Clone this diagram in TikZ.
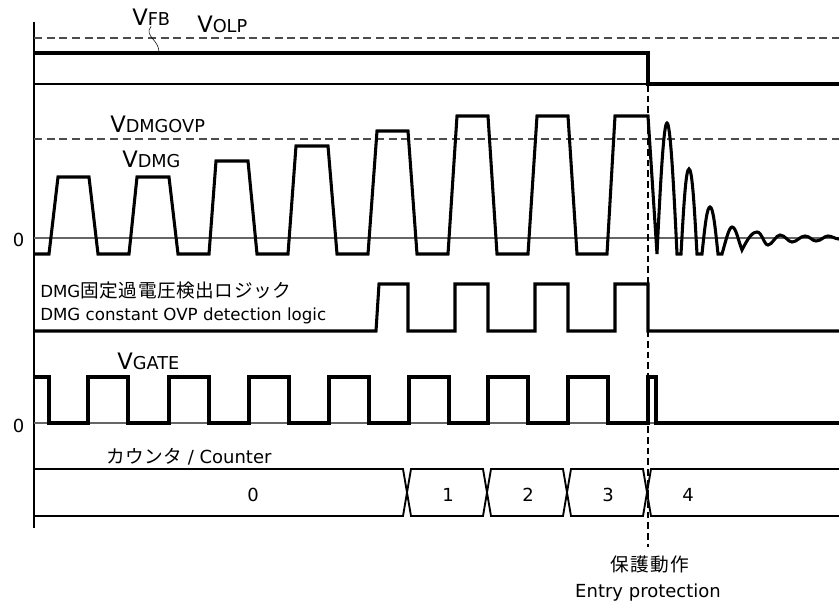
\documentclass[tikz,border=0pt]{standalone}
\usepackage{fontspec}
\setmainfont{DejaVu Sans}
\newfontfamily\jpfont{Noto Sans CJK JP}
\newcommand\sigv[1]{{\fontsize{17}{20}\selectfont V}{\fontsize{13.3}{16}\selectfont #1}}

\begin{document}
\begin{tikzpicture}[x=0.75pt, y=-0.75pt,
    wave/.style={line width=2.3pt},
    refline/.style={line width=0.8pt, black!60},
    limit/.style={line width=1pt, black!70, dash pattern=on 6pt off 3.5pt},
    lbl/.style={inner sep=0pt, font=\fontsize{12.5}{15}\selectfont},
    big/.style={inner sep=0pt, font=\fontsize{13.5}{16}\selectfont}]
\useasboundingbox (0,0) rectangle (839,608);

% axis and reference lines
\draw [line width=1.1pt] (34,22) -- (34,528);
\draw [limit] (34,38) -- (839,38);
\draw [limit] (34,139) -- (839,139);
\draw [refline, black] (34,84) -- (648,84);
\draw [refline] (34,238) -- (839,238);
\draw [refline] (34,423) -- (839,423);

% labels
\node [anchor=base west, inner sep=0pt] (vfb) at (132,25) {\sigv{FB}};
\node [anchor=base west, inner sep=0pt] (volp) at (197,32) {\sigv{OLP}};
\node [anchor=base west, inner sep=0pt] (vdmgovp) at (110,132) {\sigv{DMGOVP}};
\node [anchor=base west, inner sep=0pt] (vdmg) at (122,167) {\sigv{DMG}};
\node [anchor=base west, inner sep=0pt] (vgate) at (117,369) {\sigv{GATE}};
\node [big] (zero1) at (18.5,240) {0};
\node [big] (zero2) at (18.5,426) {0};
\node [lbl, anchor=base west] (logicjp) at (40,297) {DMG{\jpfont\fontsize{14}{16}\selectfont\addfontfeature{LetterSpace=3}固定過電圧検出ロジック}};
\node [lbl, anchor=base west] (logicen) at (40,320) {DMG constant OVP detection logic};
\node [big, anchor=base west] (cntlbl) at (106,463) {{\jpfont\fontsize{14}{16}\selectfont\addfontfeature{LetterSpace=2}カウンタ} / Counter};

% V_FB
\path (vfb.south) ++(0,1) coordinate (sq);
\draw (sq) .. controls (143,36) and (160,40) .. (159,53);
\draw [wave] (34,53) -- (648,53) -- (648,84) -- (839,84);

% V_DMG
\draw [wave] (34,254) -- (49,254) -- (58,177) -- (89,177) -- (98,254)
    -- (129,254) -- (137,177) -- (169,177) -- (178,254)
    -- (209,254) -- (216,161) -- (248,161) -- (257,254)
    -- (288,254) -- (296,146) -- (328,146) -- (337,254)
    -- (368,254) -- (377,131) -- (408,131) -- (417,254)
    -- (448,254) -- (457,116) -- (488,116) -- (497,254)
    -- (528,254) -- (537,116) -- (568,116) -- (577,254)
    -- (607,254) -- (615,116) -- (648,116) -- (657,254)
    .. controls (661,170) and (664,123) .. (667,123) .. controls (670,123) and (673,170) .. (677,254)
    -- (681,254)
    .. controls (684,200) and (686,169) .. (689,169) .. controls (692,169) and (694,200) .. (697,254)
    -- (702,254)
    .. controls (705,225) and (707,207) .. (710,207) .. controls (713,207) and (715,225) .. (718,254)
    -- (722,254)
    .. controls (726,240) and (729,227) .. (732,227) .. controls (736,227) and (738,240) .. (742,250)
    .. controls (749,236) and (753,232) .. (757,232) .. controls (762,232) and (764,245) .. (768,245)
    .. controls (772,245) and (776,235) .. (780,235) .. controls (785,235) and (788,242) .. (792,242)
    .. controls (797,242) and (800,236) .. (805,236) .. controls (810,236) and (812,241) .. (816,241)
    .. controls (821,241) and (824,236) .. (828,236) .. controls (832,236) and (835,239) .. (839,239);

% OVP detection logic
\draw [wave] (34,331) -- (376,331) -- (379,284) -- (408,284) -- (408,331)
    -- (455,331) -- (455,284) -- (488,284) -- (488,331)
    -- (535,331) -- (535,284) -- (568,284) -- (568,331)
    -- (615,331) -- (615,284) -- (648,284) -- (648,331) -- (839,331);

% V_GATE
\draw [wave] (34,377) -- (49,377) -- (49,423) -- (88,423) -- (88,377)
    -- (128,377) -- (128,423) -- (169,423) -- (169,377)
    -- (209,377) -- (209,423) -- (249,423) -- (249,377)
    -- (289,377) -- (289,423) -- (329,423) -- (329,377)
    -- (369,377) -- (369,423) -- (409,423) -- (409,377)
    -- (449,377) -- (449,423) -- (488,423) -- (488,377)
    -- (528,377) -- (528,423) -- (568,423) -- (568,377)
    -- (608,377) -- (608,423) -- (648,423) -- (648,377)
    -- (656,377) -- (656,423) -- (839,423);

% counter
\draw [line width=1.4pt] (34,469) -- (403,469) -- (411,516) -- (483,516) -- (491,469)
    -- (563,469) -- (571,516) -- (643,516) -- (651,469) -- (839,469);
\draw [line width=1.4pt] (34,516) -- (403,516) -- (411,469) -- (483,469) -- (491,516)
    -- (563,516) -- (571,469) -- (643,469) -- (651,516) -- (839,516);
\node [big] (c0) at (253,495) {0};
\node [big] (c1) at (448,495) {1};
\node [big] (c2) at (528,495) {2};
\node [big] (c3) at (608,495) {3};
\node [big] (c4) at (688,495) {4};

% entry protection
\node [big, anchor=base] (entry) at (648,597) {Entry protection};
\node [big, anchor=base, font=\jpfont\fontsize{14}{16}\selectfont\addfontfeature{LetterSpace=8}] (prot) at (650,571) {保護動作};
\draw [line width=0.8pt, dash pattern=on 5pt off 3pt] (648,53) -- (648,547);
\end{tikzpicture}
\end{document}
